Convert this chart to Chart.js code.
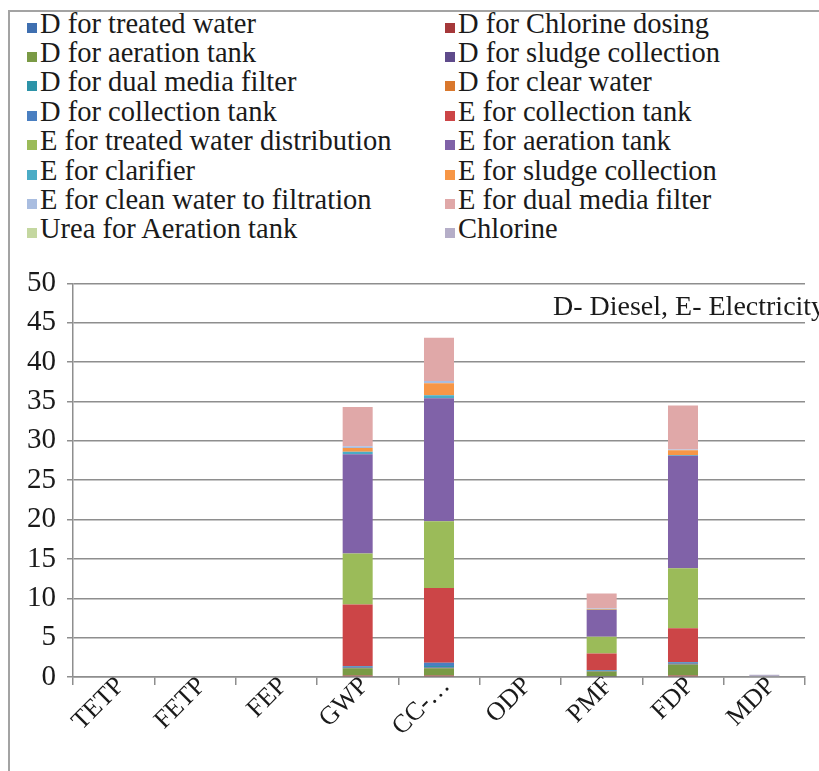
<!DOCTYPE html>
<html>
<head>
<meta charset="utf-8">
<script src="https://cdn.jsdelivr.net/npm/chart.js@4.4.1/dist/chart.umd.min.js"></script>
<style>
  body { margin: 0; width: 819px; height: 771px; overflow: hidden; background: #fff; font-family: "Liberation Serif", "Times New Roman", serif; }
  #frame { position: absolute; left: 8px; top: 10px; width: 900px; height: 900px; border: 2px solid #a3a3a3; }
  #legend { position: absolute; left: 27px; top: 8.6px; display: grid; grid-template-columns: 418px 380px; }
  .item { height: 29.4px; line-height: 29.4px; font-size: 28.5px; color: #1a1a1a; white-space: nowrap; }
  .sw { display: inline-block; width: 10px; height: 10px; margin-right: 3px; vertical-align: 0px; }
  #wrap { position: absolute; left: 10px; top: 255px; width: 809px; height: 516px; }
</style>
</head>
<body>
<div id="frame"></div>
<div id="legend"></div>
<div id="wrap"><canvas id="chart"></canvas></div>
<script>
// categories
const categories = ["TETP", "FETP", "FEP", "GWP", "CC-…", "ODP", "PMF", "FDP", "MDP"];
const yTicks = [0, 5, 10, 15, 20, 25, 30, 35, 40, 45, 50];
const note = "D- Diesel, E- Electricity";

// series (stacked bottom to top, legend order)
const dTreatedWater      = [0, 0, 0, 0.1, 0.1, 0, 0.05, 0.1, 0];
const dChlorineDosing    = [0, 0, 0, 0.1, 0.1, 0, 0.05, 0.1, 0];
const dAerationTank      = [0, 0, 0, 0.9, 0.9, 0, 0.6, 1.4, 0];
const dSludgeCollection  = [0, 0, 0, 0.1, 0.1, 0, 0.05, 0.1, 0];
const dDualMediaFilter   = [0, 0, 0, 0.1, 0.2, 0, 0.05, 0.1, 0];
const dClearWater        = [0, 0, 0, 0, 0, 0, 0, 0, 0];
const dCollectionTank    = [0, 0, 0, 0.1, 0.4, 0, 0.1, 0.1, 0];
const eCollectionTank    = [0, 0, 0, 7.8, 9.5, 0, 2.1, 4.3, 0];
const eTreatedWaterDist  = [0, 0, 0, 6.5, 8.5, 0, 2.1, 7.6, 0];
const eAerationTank      = [0, 0, 0, 12.6, 15.6, 0, 3.4, 14.3, 0];
const eClarifier         = [0, 0, 0, 0.3, 0.4, 0, 0.05, 0.1, 0];
const eSludgeCollection  = [0, 0, 0, 0.5, 1.5, 0, 0.1, 0.6, 0];
const eCleanWater        = [0, 0, 0, 0.2, 0.3, 0, 0.05, 0.1, 0];
const eDualMediaFilter   = [0, 0, 0, 5.0, 5.5, 0, 1.9, 5.6, 0];
const ureaAeration       = [0, 0, 0, 0, 0, 0, 0, 0, 0];
const chlorine           = [0, 0, 0, 0, 0, 0, 0, 0, 0.3];

const series = [
  ["D for treated water", dTreatedWater, "#3f6fb0"],
  ["D for Chlorine dosing", dChlorineDosing, "#a5383a"],
  ["D for aeration tank", dAerationTank, "#7a9a45"],
  ["D for sludge collection", dSludgeCollection, "#5f4b8b"],
  ["D for dual media filter", dDualMediaFilter, "#2d93a8"],
  ["D for clear water", dClearWater, "#d9782d"],
  ["D for collection tank", dCollectionTank, "#4a7fc1"],
  ["E for collection tank", eCollectionTank, "#cc4547"],
  ["E for treated water distribution", eTreatedWaterDist, "#9bbb59"],
  ["E for aeration tank", eAerationTank, "#8062a8"],
  ["E for clarifier", eClarifier, "#4bacc6"],
  ["E for sludge collection", eSludgeCollection, "#f79646"],
  ["E for clean water to filtration", eCleanWater, "#a9bde0"],
  ["E for dual media filter", eDualMediaFilter, "#e0a8a8"],
  ["Urea for Aeration tank", ureaAeration, "#c4d7a0"],
  ["Chlorine", chlorine, "#b5aec8"]
];

const gridColor = "#8e8e8e";
const font = "'Liberation Serif', 'Times New Roman', serif";

// text in the top right of the plot
const notePlugin = {
  id: "note",
  afterDraw(c) {
    const ctx = c.ctx;
    ctx.save();
    ctx.font = "28px " + font;
    ctx.fillStyle = "#1a1a1a";
    ctx.textBaseline = "middle";
    ctx.fillText(note, c.chartArea.right - 252, c.scales.y.getPixelForValue(46.9));
    ctx.restore();
  }
};

const chart = new Chart(document.getElementById("chart"), {
  type: "bar",
  data: {
    labels: categories,
    datasets: series.map(s => ({
      label: s[0],
      data: s[1],
      backgroundColor: s[2],
      borderWidth: 0,
      barPercentage: 0.9,
      categoryPercentage: 0.41
    }))
  },
  options: {
    responsive: true,
    maintainAspectRatio: false,
    animation: false,
    layout: { padding: { top: 20, right: 14, left: 0, bottom: 0 } },
    plugins: { legend: { display: false }, tooltip: { enabled: false } },
    scales: {
      x: {
        stacked: true,
        afterFit: s => { s.height = 94; },
        grid: { drawOnChartArea: false, tickLength: 8, color: gridColor, lineWidth: 1.5 },
        border: { color: gridColor, width: 1.5 },
        ticks: { color: "#1a1a1a", font: { family: font, size: 26 }, minRotation: 45, maxRotation: 45, padding: -14, labelOffset: 7 }
      },
      y: {
        stacked: true,
        min: yTicks[0],
        max: yTicks[yTicks.length - 1],
        afterFit: s => { s.width = 63; },
        afterBuildTicks: s => { s.ticks = yTicks.map(v => ({ value: v })); },
        grid: { color: gridColor, lineWidth: 1.5, tickLength: 6 },
        border: { color: gridColor, width: 1.5 },
        ticks: { color: "#1a1a1a", font: { family: font, size: 29 }, padding: 11 }
      }
    }
  },
  plugins: [notePlugin]
});

// two-column legend built from the chart's datasets
const legend = document.getElementById("legend");
chart.data.datasets.forEach(ds => {
  const d = document.createElement("div");
  d.className = "item";
  d.innerHTML = '<span class="sw" style="background:' + ds.backgroundColor + '"></span>' + ds.label;
  legend.appendChild(d);
});
</script>
</body>
</html>
